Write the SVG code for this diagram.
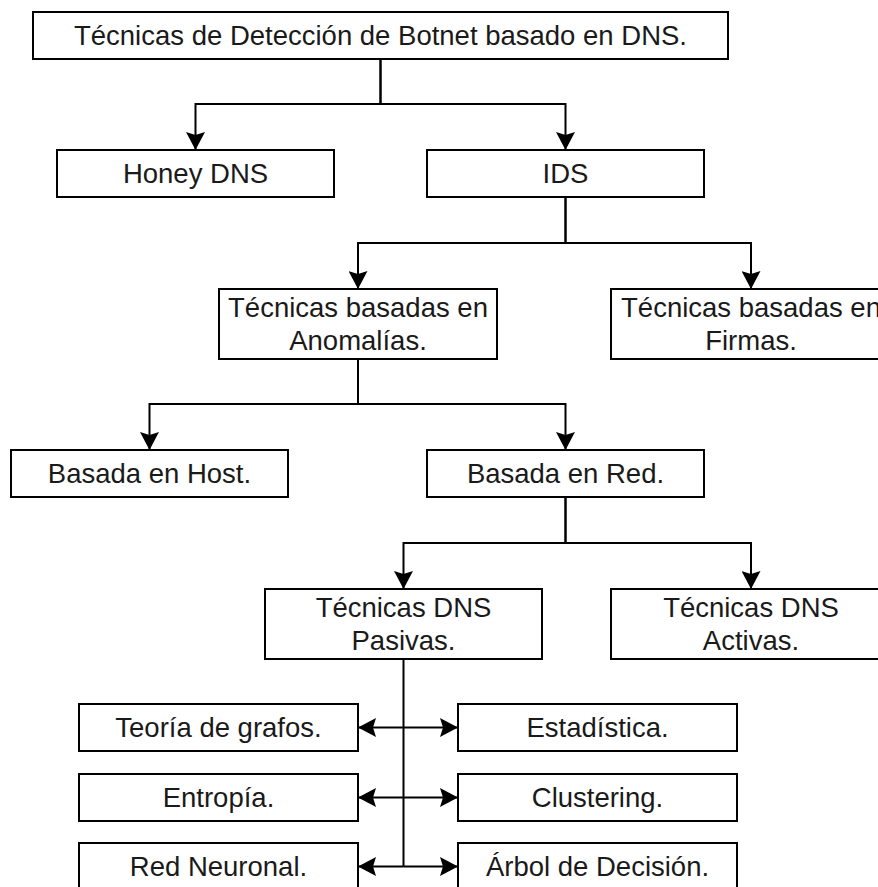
<svg xmlns="http://www.w3.org/2000/svg" width="878" height="887" viewBox="0 0 878 887">
<style>
.box{fill:#fff;stroke:#000;stroke-width:2}
.lbl{font-family:"Liberation Sans",Arial,sans-serif;font-size:27.5px;fill:#1a1a1a;text-anchor:middle}
.edge{fill:none;stroke:#000;stroke-width:2;marker-end:url(#arr)}
.trunk{fill:none;stroke:#000;stroke-width:2}
</style>
<defs>
<marker id="arr" viewBox="0 0 18 19" refX="18" refY="9.5" markerWidth="18" markerHeight="19" markerUnits="userSpaceOnUse" orient="auto">
<path d="M0 0 L18 9.5 L0 19 L3 9.5 Z" fill="#000"/>
</marker>
</defs>
<rect width="878" height="887" fill="#fff"/>
<g id="connectors">
<path class="edge" d="M380.5 59 V104 H195.5 V150"/>
<path class="edge" d="M380.5 59 V104 H565.5 V150"/>
<path class="edge" d="M565.5 197 V243 H358 V289"/>
<path class="edge" d="M565.5 197 V243 H751 V289"/>
<path class="edge" d="M358 359 V404 H149.5 V450"/>
<path class="edge" d="M358 359 V404 H565.5 V450"/>
<path class="edge" d="M565.5 497 V543 H403.5 V589"/>
<path class="edge" d="M565.5 497 V543 H751 V589"/>
<path class="trunk" d="M403.5 659 V866.5"/>
<path class="edge" d="M403.5 727.5 H358"/>
<path class="edge" d="M403.5 727.5 H458"/>
<path class="edge" d="M403.5 797.5 H358"/>
<path class="edge" d="M403.5 797.5 H458"/>
<path class="edge" d="M403.5 866.5 H358"/>
<path class="edge" d="M403.5 866.5 H458"/>
</g>
<g id="root"><rect class="box" x="33" y="12" width="695" height="47"/><text class="lbl" x="380.5" y="45">Técnicas de Detección de Botnet basado en DNS.</text></g>
<g id="honey"><rect class="box" x="57" y="150" width="277" height="47"/><text class="lbl" x="195.5" y="183">Honey DNS</text></g>
<g id="ids"><rect class="box" x="427" y="150" width="277" height="47"/><text class="lbl" x="565.5" y="183">IDS</text></g>
<g id="anomalias"><rect class="box" x="219" y="289" width="278" height="70"/><text class="lbl" x="358" y="317">Técnicas basadas en</text><text class="lbl" x="358" y="350">Anomalías.</text></g>
<g id="firmas"><rect class="box" x="611" y="289" width="280" height="70"/><text class="lbl" x="751" y="317">Técnicas basadas en</text><text class="lbl" x="751" y="350">Firmas.</text></g>
<g id="host"><rect class="box" x="11" y="450" width="277" height="47"/><text class="lbl" x="149.5" y="483">Basada en Host.</text></g>
<g id="red"><rect class="box" x="427" y="450" width="277" height="47"/><text class="lbl" x="565.5" y="483">Basada en Red.</text></g>
<g id="pasivas"><rect class="box" x="265" y="589" width="277" height="70"/><text class="lbl" x="403.5" y="617">Técnicas DNS</text><text class="lbl" x="403.5" y="650">Pasivas.</text></g>
<g id="activas"><rect class="box" x="611" y="589" width="280" height="70"/><text class="lbl" x="751" y="617">Técnicas DNS</text><text class="lbl" x="751" y="650">Activas.</text></g>
<g id="grafos"><rect class="box" x="79" y="704" width="279" height="47"/><text class="lbl" x="218.5" y="737">Teoría de grafos.</text></g>
<g id="estadistica"><rect class="box" x="458" y="704" width="279" height="47"/><text class="lbl" x="597.5" y="737">Estadística.</text></g>
<g id="entropia"><rect class="box" x="79" y="774" width="279" height="47"/><text class="lbl" x="218.5" y="807">Entropía.</text></g>
<g id="clustering"><rect class="box" x="458" y="774" width="279" height="47"/><text class="lbl" x="597.5" y="807">Clustering.</text></g>
<g id="neuronal"><rect class="box" x="79" y="843" width="279" height="47"/><text class="lbl" x="218.5" y="876">Red Neuronal.</text></g>
<g id="arbol"><rect class="box" x="458" y="843" width="279" height="47"/><text class="lbl" x="597.5" y="876">Árbol de Decisión.</text></g>
</svg>
